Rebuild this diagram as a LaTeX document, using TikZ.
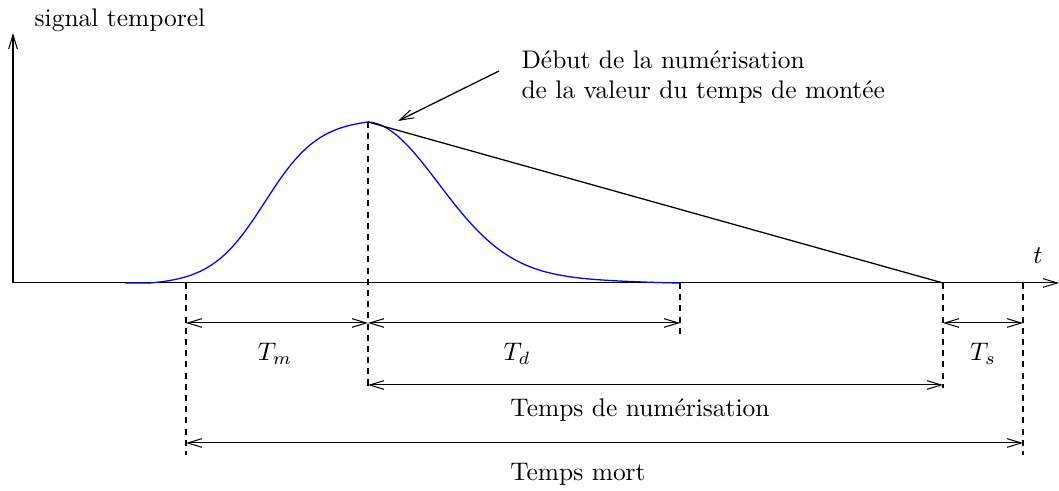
\documentclass[tikz,border=0pt]{standalone}
\usetikzlibrary{arrows.meta}
\begin{document}
\begin{tikzpicture}[x=0.393pt,y=-0.393pt,
  tip/.tip={Straight Barb[length=5.6pt,width=3.4pt,line width=0.4pt]},
  axis/.style={-tip,line width=0.4pt},
  guide/.style={line width=0.8pt,dash pattern=on 2.4pt off 2pt},
  dim/.style={tip-tip,line width=0.4pt},
  signal/.style={blue,line width=0.5pt},
  lbl/.style={inner sep=0pt}]
\useasboundingbox (0,0) rectangle (1059,491);
% key coordinates
\coordinate (O) at (13,283);
\coordinate (Ytop) at (13,33);
\coordinate (Xend) at (1059,283);
\coordinate (peak) at (368,122);
\coordinate (a) at (186,283);
\coordinate (c) at (680,283);
\coordinate (d) at (943,283);
\coordinate (e) at (1023,283);
\coordinate (aB) at (186,455);
\coordinate (bB) at (368,388);
\coordinate (cB) at (680,338);
\coordinate (dB) at (943,388);
\coordinate (eB) at (1023,455);
% axes
\draw[axis] (O) -- (Ytop);
\draw[axis] (O) -- (Xend);
\node[lbl] (sig) at (120,20) {signal temporel};
\node[lbl] (t) at (1038,256) {$t$};
% signal
\draw[signal] (125,283) -- (150,283)
  plot[domain=150:368,samples=100] (\x,{283-161*(1/(1+exp(-(\x-265)/27.1))-0.014)/(0.978-0.014)});
\draw[signal]
  plot[domain=368:680,samples=120] (\x,{283-161*(0.91*exp(-((\x-368)/100)^2)+0.09*((680-\x)/312)^1.3)});
\draw[line width=0.5pt] (peak) -- (d);
% guides
\draw[guide] (a) -- (aB);
\draw[guide] (peak) -- (bB);
\draw[guide] (c) -- (cB);
\draw[guide] (d) -- (dB);
\draw[guide] (e) -- (eB);
% dimension arrows
\draw[dim] (186,323) -- (368,323);
\draw[dim] (368,323) -- (680,323);
\draw[dim] (943,323) -- (1023,323);
\draw[dim] (368,385) -- (943,385);
\draw[dim] (186,443) -- (1023,443);
\node[lbl] (Tm) at (275,354) {$T_m$};
\node[lbl] (Td) at (517,354) {$T_d$};
\node[lbl] (Ts) at (983,354) {$T_s$};
\node[lbl] (Tn) at (640,410) {Temps de numérisation};
\node[lbl] (Tmort) at (578,474) {Temps mort};
% annotation
\node[lbl,anchor=north west,align=left] (ann) at (521,50) {Début de la numérisation\\de la valeur du temps de montée};
\coordinate (annS) at (499,71);
\coordinate (annE) at (398,121);
\draw[-tip,line width=0.5pt] (annS) -- (annE);
\end{tikzpicture}
\end{document}
